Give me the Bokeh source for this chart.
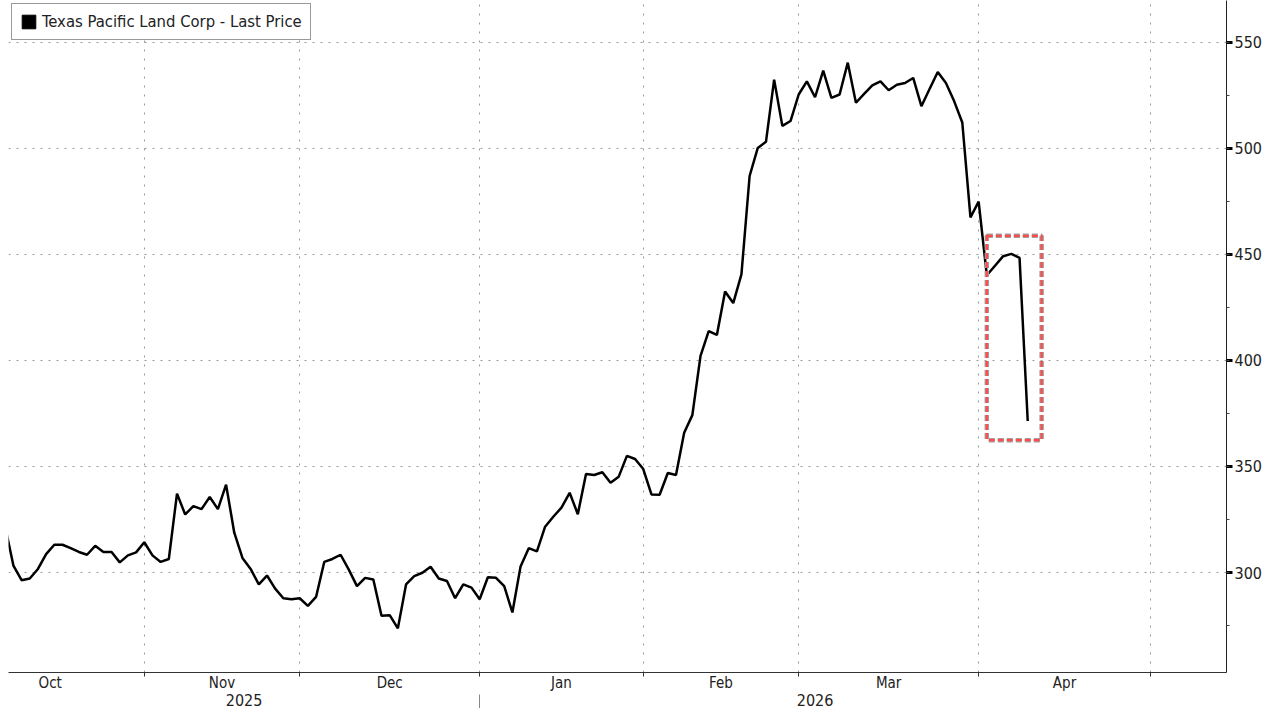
import numpy as np
from bokeh.plotting import figure
from bokeh.models import (FixedTicker, SingleIntervalTicker, LinearAxis, Range1d,
                          BoxAnnotation, Legend, LegendItem)
from bokeh.embed import file_html
from bokeh.resources import INLINE

# ---- data -------------------------------------------------------------
series_name = "Texas Pacific Land Corp - Last Price"
month_labels = ["Oct", "Nov", "Dec", "Jan", "Feb", "Mar", "Apr"]
month_trading_days = [23, 19, 22, 20, 19, 22, 21]
month_years = ["2025", "2025", "2025", "2026", "2026", "2026", "2026"]
first_price_day = 6          # trading-day index (from Oct 1, 2025) of first price
prices = [
    321.5, 303.3, 296.4, 297.2, 301.7, 308.7, 313.1, 313.1, 311.5, 309.7,
    308.4, 312.6, 309.7, 309.7, 304.8, 308.1, 309.5, 314.3, 308.1, 305.0,
    306.4, 337.2, 327.4, 331.3, 329.9, 335.6, 329.9, 341.4, 318.8, 306.9,
    301.7, 294.4, 298.6, 292.4, 287.9, 287.4, 287.9, 284.3, 288.5, 305.0,
    306.4, 308.4, 301.4, 293.6, 297.5, 296.7, 279.6, 279.9, 273.7, 294.4,
    298.3, 299.9, 302.7, 297.2, 296.0, 287.9, 294.4, 292.9, 287.4, 297.8,
    297.5, 293.6, 281.2, 302.9, 311.5, 310.0, 321.6, 326.3, 330.6, 337.6,
    327.5, 346.5, 346.0, 347.3, 342.3, 345.2, 355.0, 353.5, 348.8, 336.8,
    336.7, 346.9, 346.0, 365.9, 374.2, 402.1, 413.8, 412.0, 432.5, 427.0,
    440.5, 486.9, 500.1, 503.0, 532.3, 510.5, 512.8, 525.3, 531.5, 524.0,
    536.6, 523.7, 525.3, 540.3, 521.4, 525.6, 529.6, 531.5, 527.3, 529.9,
    530.7, 533.1, 519.8, 527.9, 535.9, 530.7, 522.2, 512.1, 467.4, 474.8,
    440.1, 444.6, 449.1, 450.2, 448.3, 371.4,
]
highlight_last = 6

# ---- derived ----------------------------------------------------------
x = first_price_day + np.arange(len(prices))
bounds = np.concatenate([[0], np.cumsum(month_trading_days)]).astype(float)
centers = (bounds[:-1] + bounds[1:]) / 2.0

X0, X1 = 6.4, 155.3
Y0, Y1 = 252.9, 569.6

p = figure(width=1264, height=708, output_backend="svg", toolbar_location=None,
           x_range=Range1d(X0, X1), y_range=Range1d(Y0, Y1),
           y_axis_location="right",
           min_border_left=8, min_border_top=0, min_border_right=0, min_border_bottom=0)
p.outline_line_color = None
p.background_fill_color = "white"
p.border_fill_color = "white"

FONT = "DejaVu Sans Condensed"

# x axis: month labels at centres, boundaries as minor ticks
xa = p.xaxis[0]
xa.ticker = FixedTicker(ticks=list(centers), minor_ticks=list(bounds))
xa.major_label_overrides = {float(c): m for c, m in zip(centers, month_labels)}
xa.major_tick_line_color = None
xa.major_tick_out = 0
xa.major_tick_in = 0
xa.minor_tick_out = 4
xa.minor_tick_in = 0
xa.minor_tick_line_color = "#333333"
xa.axis_line_color = "#333333"
xa.major_label_text_font = FONT
xa.major_label_text_font_size = "15px"
xa.major_label_text_color = "#222222"
xa.major_label_standoff = -3

# year axis
years = []
for yv in month_years:
    if yv not in years:
        years.append(yv)
ybounds = []
for yv in years:
    idx = [i for i, m in enumerate(month_years) if m == yv]
    ybounds.append((max(bounds[idx[0]], X0), min(bounds[idx[-1] + 1], X1)))
ycenters = [(a + b) / 2 for a, b in ybounds]
sep = [ybounds[i][1] for i in range(len(ybounds) - 1)]
ya2 = LinearAxis(ticker=FixedTicker(ticks=ycenters, minor_ticks=sep))
ya2.major_label_overrides = {float(c): s for c, s in zip(ycenters, years)}
ya2.axis_line_color = None
ya2.major_tick_line_color = None
ya2.major_tick_out = 0
ya2.major_tick_in = 0
ya2.minor_tick_out = 18
ya2.minor_tick_in = 0
ya2.minor_tick_line_color = "#888888"
ya2.major_label_text_font = FONT
ya2.major_label_text_font_size = "16px"
ya2.major_label_text_color = "#222222"
ya2.major_label_standoff = -19
p.add_layout(ya2, "below")

# y axis (right)
yax = p.yaxis[0]
yax.ticker = SingleIntervalTicker(interval=50, num_minor_ticks=2)
yax.axis_line_color = "#222222"
yax.major_tick_out = 6
yax.major_tick_in = 0
yax.major_tick_line_width = 3
yax.major_tick_line_color = "black"
yax.minor_tick_out = 3
yax.minor_tick_in = 0
yax.minor_tick_line_color = "#444444"
yax.major_label_text_font = FONT
yax.major_label_text_font_size = "16px"
yax.major_label_text_color = "#222222"
yax.major_label_standoff = 2

# grids
p.xgrid.grid_line_color = None
p.xgrid.minor_grid_line_color = "#9a9a9a"
p.xgrid.minor_grid_line_dash = "2 7"
p.xgrid.minor_grid_line_width = 1
p.ygrid.grid_line_color = "#9a9a9a"
p.ygrid.grid_line_dash = "2 6"
p.ygrid.grid_line_width = 1

# line
p.line(x, prices, line_color="black", line_width=2.5)

# highlight box around last points
hx = x[-highlight_last:]
hy = prices[-highlight_last:]
box_kw = dict(left=float(hx[0]), right=float(hx[-1]) + 1.7,
              bottom=min(hy) - 9, top=max(hy) + 8.5, fill_alpha=0, line_alpha=1)
p.add_layout(BoxAnnotation(line_color="#a0a0a0", line_width=4.5, line_dash="6 3", **box_kw))
p.add_layout(BoxAnnotation(line_color="#ff4a4a", line_width=2.2, line_dash="6 3", **box_kw))

# legend
dummy = p.quad(left=[np.nan], right=[np.nan], top=[np.nan], bottom=[np.nan],
               fill_color="black", line_color="black")
legend = Legend(items=[LegendItem(label=series_name, renderers=[dummy])],
                location="top_left", margin=3, padding=8, spacing=0,
                glyph_width=17, glyph_height=17, label_standoff=5,
                label_height=17,
                label_text_font=FONT, label_text_font_size="16.5px",
                label_text_color="#222222",
                border_line_color="#333333", border_line_width=1,
                background_fill_color="white", background_fill_alpha=1)
p.add_layout(legend)

open("out.html", "w").write(file_html(p, INLINE))
